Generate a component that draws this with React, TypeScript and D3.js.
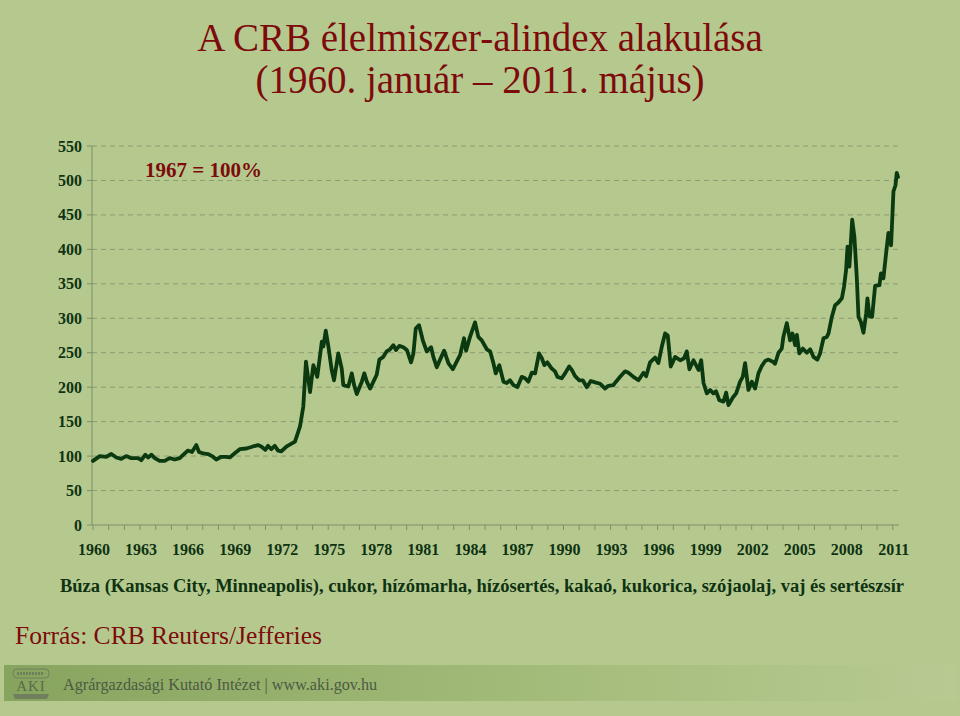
import React from "react";
import * as d3 from "d3";

const titleLines = ["A CRB élelmiszer-alindex alakulása", "(1960. január – 2011. május)"];
const baseNote = "1967 = 100%";
const subtitle = "Búza (Kansas City, Minneapolis), cukor, hízómarha, hízósertés, kakaó, kukorica, szójaolaj, vaj és sertészsír";
const sourceText = "Forrás: CRB Reuters/Jefferies";
const footerText = "Agrárgazdasági Kutató Intézet | www.aki.gov.hu";

const yTicks = [0, 50, 100, 150, 200, 250, 300, 350, 400, 450, 500, 550];
const xLabelYears = [1960, 1963, 1966, 1969, 1972, 1975, 1978, 1981, 1984, 1987, 1990, 1993, 1996, 1999, 2002, 2005, 2008, 2011];

// decimal year of each observed turning point
const dates = [
  1960.0, 1960.43, 1960.85, 1961.17, 1961.49, 1961.8, 1962.12, 1962.44, 1962.87, 1963.08,
  1963.34, 1963.51, 1963.72, 1963.94, 1964.25, 1964.57, 1964.89, 1965.21, 1965.53, 1965.85,
  1966.06, 1966.31, 1966.59, 1966.76, 1967.02, 1967.33, 1967.59, 1967.86, 1968.18, 1968.5,
  1968.72, 1969.04, 1969.36, 1969.78, 1970.2, 1970.52, 1970.73, 1970.99, 1971.16, 1971.37,
  1971.59, 1971.8, 1972.01, 1972.35, 1972.88, 1973.2, 1973.41, 1973.58, 1973.84, 1974.05,
  1974.3, 1974.59, 1974.69, 1974.84, 1975.01, 1975.22, 1975.37, 1975.64, 1975.86, 1975.96,
  1976.28, 1976.5, 1976.65, 1976.82, 1977.14, 1977.3, 1977.46, 1977.67, 1977.88, 1978.09,
  1978.26, 1978.51, 1978.73, 1978.94, 1979.15, 1979.32, 1979.53, 1979.79, 1980.01, 1980.28,
  1980.43, 1980.58, 1980.79, 1981.03, 1981.28, 1981.56, 1981.7, 1981.92, 1982.13, 1982.39,
  1982.66, 1982.94, 1983.19, 1983.41, 1983.66, 1983.79, 1984.04, 1984.36, 1984.57, 1984.79,
  1985.11, 1985.32, 1985.53, 1985.68, 1985.91, 1986.17, 1986.38, 1986.59, 1986.81, 1987.06,
  1987.34, 1987.55, 1987.76, 1987.98, 1988.19, 1988.44, 1988.62, 1988.78, 1988.97, 1989.25,
  1989.46, 1989.61, 1989.89, 1990.1, 1990.36, 1990.53, 1990.74, 1991.01, 1991.23, 1991.49,
  1991.74, 1992.02, 1992.33, 1992.65, 1992.86, 1993.18, 1993.35, 1993.61, 1993.93, 1994.14,
  1994.46, 1994.78, 1995.1, 1995.27, 1995.52, 1995.84, 1996.05, 1996.27, 1996.48, 1996.65,
  1996.84, 1997.12, 1997.44, 1997.69, 1997.86, 1998.03, 1998.29, 1998.61, 1998.78, 1998.93,
  1999.14, 1999.35, 1999.56, 1999.73, 1999.94, 2000.2, 2000.37, 2000.52, 2000.8, 2001.01,
  2001.26, 2001.43, 2001.58, 2001.69, 2001.79, 2002.01, 2002.22, 2002.43, 2002.65, 2002.86,
  2003.07, 2003.35, 2003.49, 2003.71, 2003.92, 2004.02, 2004.24, 2004.45, 2004.6, 2004.77,
  2004.88, 2005.04, 2005.26, 2005.52, 2005.73, 2005.94, 2006.19, 2006.36, 2006.58, 2006.79,
  2006.9, 2007.11, 2007.32, 2007.53, 2007.75, 2007.89, 2008.02, 2008.11, 2008.23, 2008.41,
  2008.55, 2008.7, 2008.81, 2008.96, 2009.13, 2009.3, 2009.38, 2009.51, 2009.68, 2009.87,
  2010.15, 2010.24, 2010.4, 2010.57, 2010.72, 2010.89, 2011.04, 2011.17, 2011.25, 2011.33,
];

const values = [
  93, 100, 99, 103, 98, 96, 100, 97, 97, 94,
  102, 98, 102, 97, 93, 93, 97, 95, 97, 104,
  108, 106, 116, 106, 104, 103, 100, 95, 99, 99,
  98, 104, 110, 111, 114, 116, 114, 109, 115, 110,
  115, 108, 107, 114, 121, 143, 172, 237, 193, 232,
  215, 266, 259, 282, 259, 225, 210, 249, 227, 203,
  201, 220, 203, 190, 208, 220, 208, 198, 208, 218,
  240, 244, 252, 255, 261, 254, 260, 258, 254, 236,
  249, 285, 290, 268, 252, 258, 244, 229, 240, 253,
  235, 226, 237, 247, 271, 253, 273, 294, 273, 268,
  255, 252, 235, 220, 232, 208, 206, 210, 203, 200,
  215, 213, 208, 221, 220, 249, 242, 232, 236, 227,
  223, 215, 213, 220, 230, 225, 216, 210, 210, 200,
  209, 207, 205, 198, 202, 203, 208, 215, 223, 221,
  215, 210, 221, 216, 236, 243, 235, 259, 278, 275,
  230, 244, 239, 242, 252, 226, 239, 225, 239, 206,
  191, 196, 191, 194, 181, 179, 192, 174, 185, 191,
  208, 215, 235, 215, 196, 208, 198, 220, 231, 238,
  240, 237, 234, 250, 256, 273, 293, 268, 278, 261,
  276, 249, 256, 250, 255, 244, 240, 249, 271, 273,
  278, 302, 319, 323, 329, 346, 370, 404, 375, 443,
  418, 360, 302, 295, 279, 307, 329, 303, 302, 347,
  348, 365, 358, 394, 424, 406, 484, 493, 511, 505,
];

const W = 960;
const H = 716;
const BG = "#b5c98f";
const DARK_RED = "#7d0b0b";
const DARK_GREEN = "#0f3312";
const SERIF = "'Liberation Serif', 'Times New Roman', serif";

export default function App() {
  const x = d3.scaleLinear().domain([1960, 2011.33]).range([93, 898]);
  const y = d3.scaleLinear().domain([0, 550]).range([525, 146]);
  const axisLeft = 92;
  const axisRight = 899;

  const points: [number, number][] = dates.map((d, i) => [d, values[i]]);
  const line = d3
    .line<[number, number]>()
    .x((d) => x(d[0]))
    .y((d) => y(d[1]))
    .curve(d3.curveLinear);

  const yearTicks = d3.range(1960, 2012);

  return (
    <svg
      width={W}
      height={H}
      style={{ position: "absolute", left: 0, top: 0, display: "block" }}
      fontFamily={SERIF}
    >
      <defs>
        <linearGradient id="band" x1="0" x2="1" y1="0" y2="0">
          <stop offset="0" stopColor="#87a45e" />
          <stop offset="0.55" stopColor="#a3bb79" />
          <stop offset="1" stopColor="#b7ca92" />
        </linearGradient>
      </defs>
      <rect x={0} y={0} width={W} height={H} fill={BG} />

      {/* title */}
      <text x={480} y={51} textAnchor="middle" fontSize={39} fill={DARK_RED}>
        {titleLines[0]}
      </text>
      <text x={480} y={93} textAnchor="middle" fontSize={39} fill={DARK_RED}>
        {titleLines[1]}
      </text>

      {/* gridlines */}
      {yTicks
        .filter((t) => t > 0)
        .map((t) => (
          <line
            key={"g" + t}
            x1={axisLeft}
            x2={axisRight}
            y1={y(t)}
            y2={y(t)}
            stroke="#8d9b72"
            strokeWidth={1}
            strokeDasharray="5,4"
          />
        ))}

      {/* y axis */}
      <line x1={axisLeft} x2={axisLeft} y1={y(550)} y2={y(0)} stroke="#7f8f66" strokeWidth={1} />
      {yTicks.map((t) => (
        <g key={"y" + t}>
          <line x1={axisLeft - 5} x2={axisLeft} y1={y(t)} y2={y(t)} stroke="#7f8f66" />
          <text
            x={82}
            y={y(t) + 5.5}
            textAnchor="end"
            fontSize={16}
            fontWeight="bold"
            fill={DARK_GREEN}
          >
            {t}
          </text>
        </g>
      ))}

      {/* x axis */}
      <line x1={axisLeft} x2={axisRight} y1={y(0)} y2={y(0)} stroke="#7f8f66" strokeWidth={1} />
      {yearTicks.map((yr) => (
        <line key={"t" + yr} x1={x(yr)} x2={x(yr)} y1={y(0)} y2={y(0) + 5} stroke="#7f8f66" />
      ))}
      {xLabelYears.map((yr) => (
        <text
          key={"x" + yr}
          x={x(yr) + 1}
          y={555}
          textAnchor="middle"
          fontSize={16}
          fontWeight="bold"
          fill={DARK_GREEN}
        >
          {yr}
        </text>
      ))}

      {/* base note */}
      <text x={145} y={177} fontSize={21} fontWeight="bold" fill={DARK_RED}>
        {baseNote}
      </text>

      {/* series */}
      <path
        d={line(points) || ""}
        fill="none"
        stroke="#0b3a10"
        strokeWidth={3.8}
        strokeLinejoin="round"
        strokeLinecap="round"
      />

      {/* subtitle */}
      <text x={482} y={592} textAnchor="middle" fontSize={18.5} fontWeight="bold" fill={DARK_GREEN}>
        {subtitle}
      </text>

      {/* source */}
      <text x={15} y={644} fontSize={25.5} fill={DARK_RED}>
        {sourceText}
      </text>

      {/* footer band */}
      <rect x={4} y={665} width={952} height={36} fill="url(#band)" />
      <g>
        <rect x={13} y={669} width={36} height={9} rx={4} fill="none" stroke="#6f7f5e" strokeWidth={1} />
        <line x1={17} x2={44} y1={673.5} y2={673.5} stroke="#6f7f5e" strokeDasharray="2,1" strokeWidth={3} />
        <text x={31} y={691} textAnchor="middle" fontSize={15} fill="#5b6a4c" letterSpacing={1}>
          AKI
        </text>
        <path d="M13,694 L49,694 L47,699 L15,699 Z" fill="#6f7f5e" />
      </g>
      <text x={63} y={690} fontSize={16.2} fill="#4d5a43">
        {footerText}
      </text>
    </svg>
  );
}
